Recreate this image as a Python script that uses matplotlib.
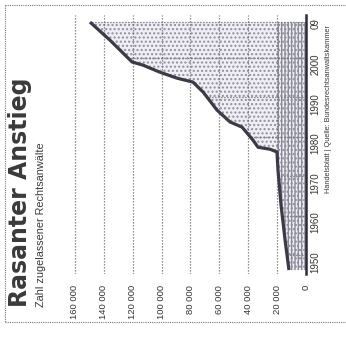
import numpy as np
import matplotlib
matplotlib.use("Agg")
from matplotlib import pyplot as plt
from matplotlib.lines import Line2D

plt.rcParams['font.family'] = ['Liberation Sans', 'DejaVu Sans']

# Zugelassene Rechtsanwälte (Jahr, Anzahl)
years = [1946.2, 1953.8, 1962.7, 1971.5, 1976.1, 1976.8, 1977.3, 1979.1, 1982.4, 1983.7,
         1986.7, 1991.3, 1993.8, 1994.8, 1996.3, 1998.1, 1998.9, 2004.4, 2009.0]
values = [11800, 14500, 17300, 19400, 20100, 24900, 33200, 36700, 44300, 52600,
          61600, 71300, 78300, 89300, 101100, 112900, 120500, 135700, 149600]

value_ticks = [0, 20000, 40000, 60000, 80000, 100000, 120000, 140000, 160000]
value_labels = ["0", "20 000", "40 000", "60 000", "80 000", "100 000", "120 000", "140 000", "160 000"]
year_ticks = [1950, 1960, 1970, 1980, 1990, 2000, 2009]
year_labels = ["1950", "1960", "1970", "1980", "1990", "2000", "09"]

title = "Rasanter Anstieg"
subtitle = "Zahl zugelassener Rechtsanwälte"
source = "Handelsblatt | Quelle: Bundesrechtsanwaltskammer"

W, H = 346, 338
fig = plt.figure(figsize=(W / 100, H / 100), dpi=100)
fig.patch.set_facecolor("white")

# Grafik ist um 90 Grad gedreht: Werte waagerecht (rechts = 0), Jahre senkrecht
ax = fig.add_axes([70 / W, 1 - 274 / H, (306 - 70) / W, (274 - 15) / H])
ax.set_xlim(163450, 0)
ax.set_ylim(1945.2, 2010.8)

yr = np.array(years)
val = np.array(values)

# Flaeche unter der Kurve, gepunktet
ax.fill_betweenx(yr, 0, val, facecolor="#efeef3", edgecolor="#8f8ea0", hatch="....",
                 linewidth=0, zorder=1)
# dichter schraffierter Streifen bis 20 000
ax.fill_betweenx(yr, 0, np.minimum(val, 20000), facecolor="none", edgecolor="#8a8a98",
                 hatch="|||||", linewidth=0, zorder=1)

# senkrechte Gitterlinien
for v in value_ticks[1:]:
    ax.axvline(v, color="#6e6e78", lw=0.9, ls=(0, (1, 1.4)), zorder=2)

# waagerechte Gitterlinien nur innerhalb der Flaeche
for y in year_ticks:
    ax.plot([0, np.interp(y, yr, val)], [y, y], color="#6e6e78", lw=0.9,
            ls=(0, (1, 1.4)), zorder=2)

ax.plot(val, yr, color="#3b3a45", lw=2.3, solid_capstyle="butt", zorder=3)
ax.axvline(0, color="#2c2c34", lw=1.8, zorder=4, clip_on=False)

ax.set_xticks(value_ticks)
ax.set_xticklabels(value_labels, rotation=90, fontsize=6.8, color="#333333")
ax.yaxis.tick_right()
ax.set_yticks(year_ticks)
ax.set_yticklabels(year_labels, rotation=90, fontsize=7, color="#333333")
ax.tick_params(axis="x", length=0, pad=8)
ax.tick_params(axis="y", length=0, pad=3)
for s in ax.spines.values():
    s.set_visible(False)
ax.set_facecolor("none")

fig.text(8 / W, 1 - 307 / H, title, rotation=90, ha="left", va="bottom",
         fontsize=17, fontweight="bold", family="DejaVu Sans", color="#3a3a3a")
fig.text(36 / W, 1 - 307 / H, subtitle, rotation=90, ha="left", va="bottom",
         fontsize=7.8, color="#3a3a3a")
fig.text(325 / W, 1 - 193 / H, source, rotation=90, ha="left", va="bottom",
         fontsize=5.3, color="#3a3a3a")

# gepunkteter Rahmen
frame = dict(color="#777777", lw=0.8, ls=(0, (1, 1)))
fig.add_artist(Line2D([5 / W, 5 / W], [1 - 5 / H, 1 - 322 / H], **frame))
fig.add_artist(Line2D([5 / W, 1], [1 - 5 / H, 1 - 5 / H], **frame))
fig.add_artist(Line2D([5 / W, 1], [1 - 322 / H, 1 - 322 / H], **frame))

fig.savefig("out.png", dpi=100)
